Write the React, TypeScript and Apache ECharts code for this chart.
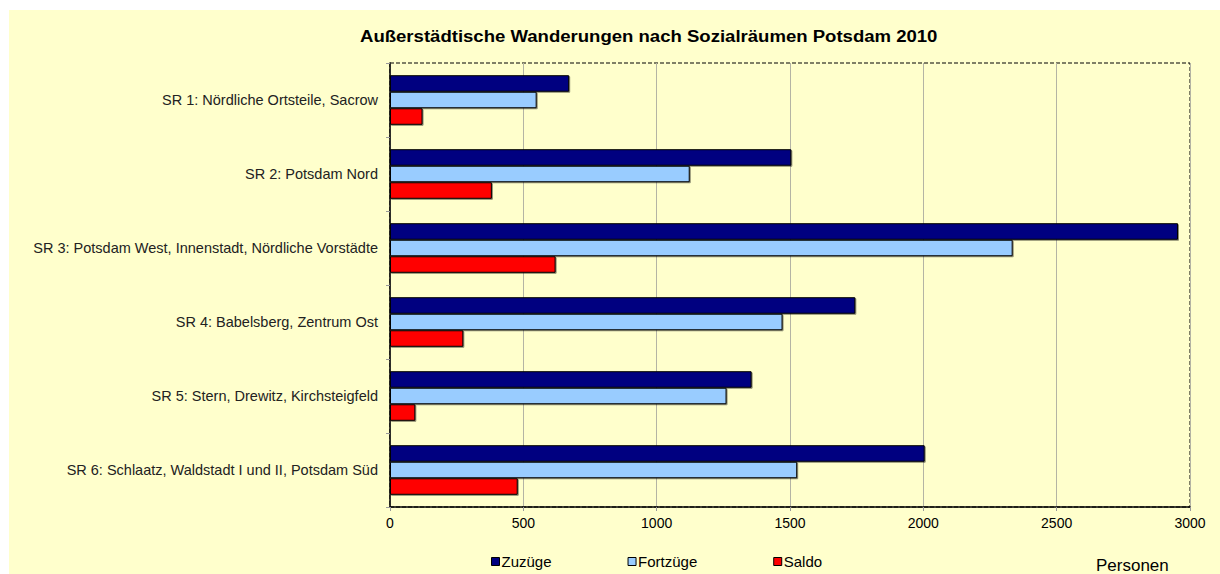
import React, { useEffect, useRef } from "react";
import * as echarts from "echarts";

const categories = [
  "SR 1: Nördliche Ortsteile, Sacrow",
  "SR 2: Potsdam Nord",
  "SR 3: Potsdam West, Innenstadt, Nördliche Vorstädte",
  "SR 4: Babelsberg, Zentrum Ost",
  "SR 5: Stern, Drewitz, Kirchsteigfeld",
  "SR 6: Schlaatz, Waldstadt I und II, Potsdam Süd",
];
const zuzuege = [672, 1505, 2955, 1745, 1356, 2005];
const fortzuege = [550, 1124, 2335, 1472, 1262, 1527];
const saldo = [122, 382, 621, 275, 95, 479];
const seriesNames = ["Zuzüge", "Fortzüge", "Saldo"];
const seriesColors = ["#000080", "#99CCFF", "#FF0000"];
const titleText = "Außerstädtische Wanderungen nach Sozialräumen Potsdam 2010";
const unitText = "Personen";

export default function App() {
  const ref = useRef<HTMLDivElement>(null);
  useEffect(() => {
    if (!ref.current) return;
    const chart = echarts.init(ref.current, undefined, { renderer: "svg" });
    const font = "'Liberation Sans', Arial, sans-serif";
    const data = [zuzuege, fortzuege, saldo];
    chart.setOption({
      animation: false,
      backgroundColor: "#ffffff",
      textStyle: { fontFamily: font },
      graphic: [
        {
          type: "rect",
          z: -10,
          silent: true,
          shape: { x: 9, y: 10, width: 1211, height: 564 },
          style: { fill: "#FFFFCC" },
        },
        {
          type: "text",
          x: 360,
          y: 36,
          scaleX: 1.16,
          style: {
            text: titleText,
            fontSize: 16,
            fontWeight: "bold",
            fontFamily: font,
            fill: "#000",
            verticalAlign: "middle",
          },
        },
        {
          type: "text",
          x: 1096,
          y: 565,
          style: {
            text: unitText,
            fontSize: 17,
            fontFamily: font,
            fill: "#000",
            verticalAlign: "middle",
          },
        },
      ],
      legend: {
        left: 486,
        top: 549,
        itemWidth: 8,
        itemHeight: 8,
        itemGap: 76,
        icon: "rect",
        data: seriesNames,
        textStyle: { fontSize: 15, color: "#000", fontFamily: font, padding: [0, 0, 0, -3] },
        itemStyle: { borderColor: "#000", borderWidth: 1, shadowBlur: 0, shadowOffsetX: 0, shadowOffsetY: 0 },
      },
      grid: {
        left: 390,
        top: 63,
        right: 30,
        bottom: 67,
        show: true,
        borderColor: "#000",
        borderWidth: 1,
        borderType: "dashed",
        backgroundColor: "transparent",
      },
      xAxis: {
        type: "value",
        min: 0,
        max: 3000,
        interval: 500,
        axisLine: { show: true, lineStyle: { color: "#000", width: 1.5 } },
        axisTick: { show: true, length: 4, lineStyle: { color: "#999" } },
        splitLine: { show: true, lineStyle: { color: "#B4B4A4", width: 1 } },
        axisLabel: {
          fontSize: 14,
          color: "#000",
          margin: 9,
          fontFamily: font,
          formatter: (v: number) => String(v),
        },
      },
      yAxis: {
        type: "category",
        inverse: true,
        data: categories,
        axisLine: { show: true, lineStyle: { color: "#000", width: 1.5 } },
        axisTick: { show: true, length: 4, lineStyle: { color: "#999" } },
        axisLabel: { fontSize: 14.5, color: "#222", margin: 12, fontFamily: font },
      },
      series: seriesNames.map((name, i) => ({
        name,
        type: "bar",
        data: data[i],
        barGap: "0%",
        barCategoryGap: "33%",
        itemStyle: {
          color: seriesColors[i],
          borderColor: "#000",
          borderWidth: 1,
          shadowColor: "rgba(0,0,0,0.45)",
          shadowOffsetX: 1,
          shadowOffsetY: 1,
          shadowBlur: 1,
        },
      })),
    });
    return () => chart.dispose();
  }, []);
  return (
    <div
      ref={ref}
      style={{ position: "fixed", left: 0, top: 0, width: 1220, height: 574 }}
    />
  );
}
